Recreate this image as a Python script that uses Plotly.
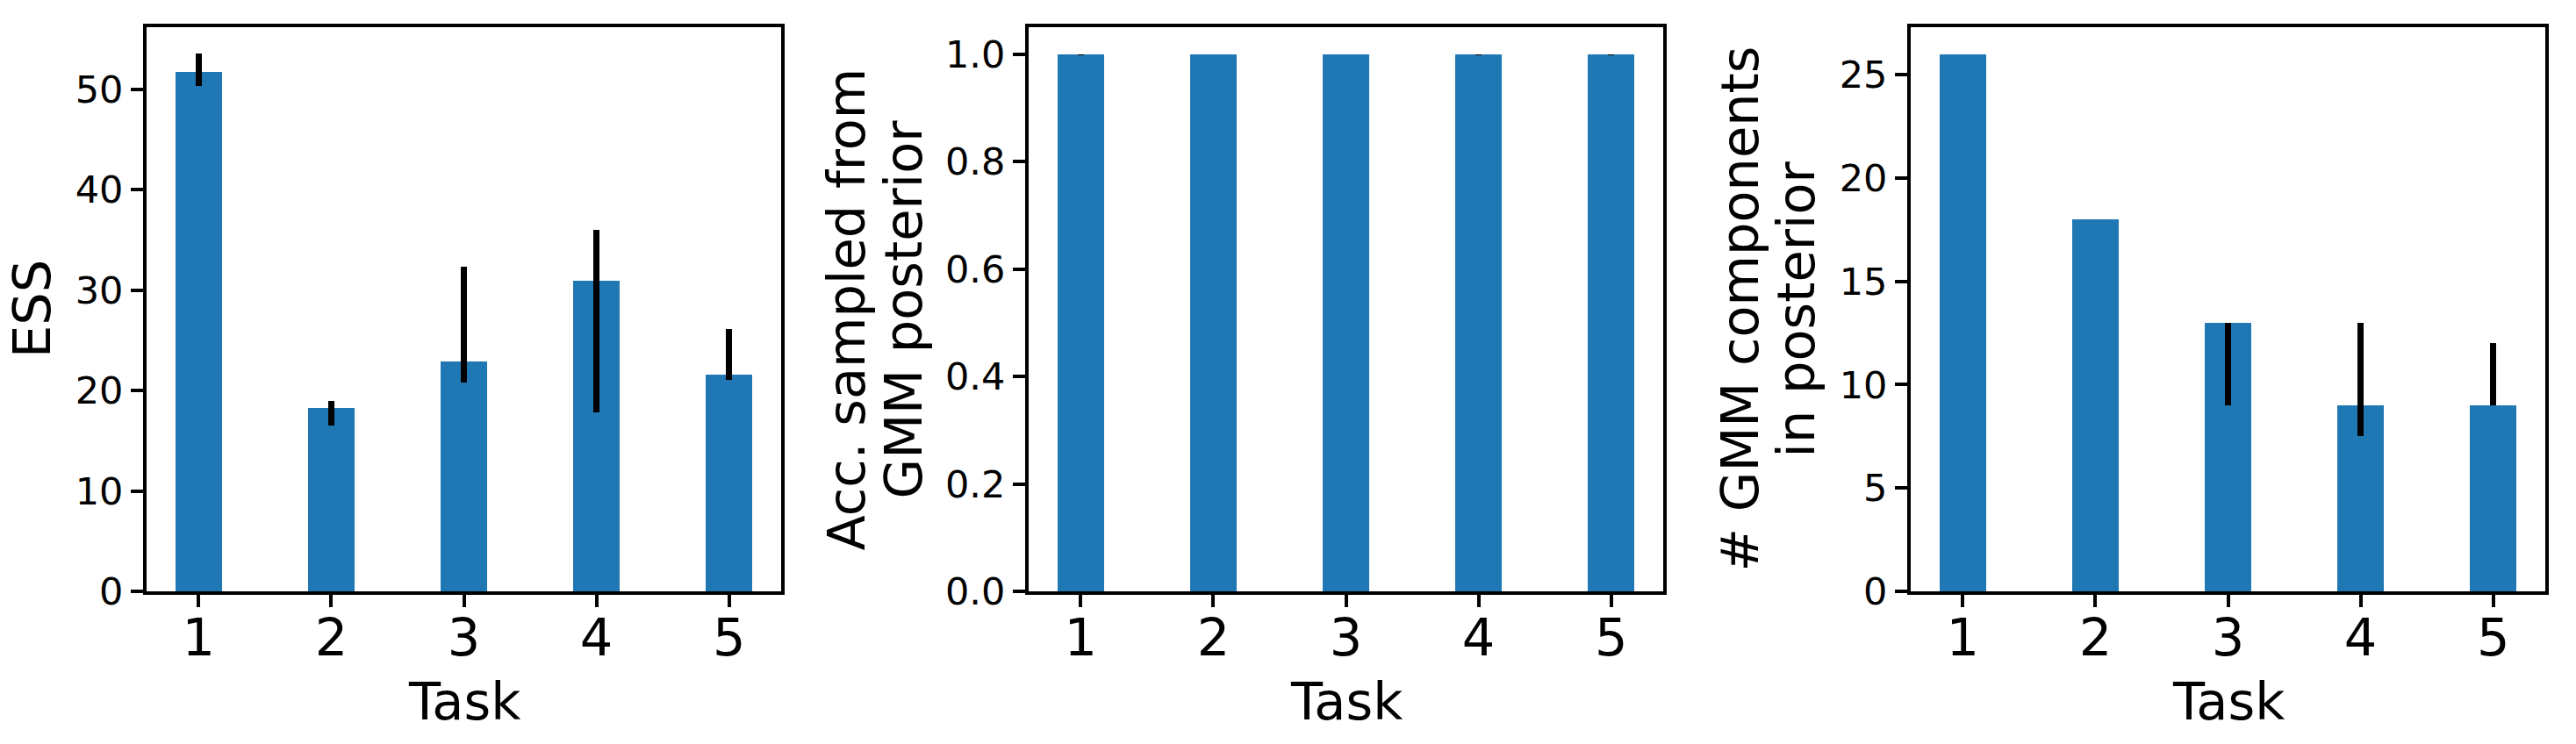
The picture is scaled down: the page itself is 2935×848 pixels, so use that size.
import plotly.graph_objects as go

# data
tasks = [1, 2, 3, 4, 5]

ess = [51.7, 18.3, 22.9, 30.9, 21.6]
ess_plus = [1.9, 0.7, 9.4, 5.1, 4.5]
ess_minus = [1.35, 1.8, 2.1, 13.1, 0.55]

acc = [1.0, 1.0, 1.0, 1.0, 1.0]
acc_plus = [0, 0, 0, 0, 0]
acc_minus = [0.002, 0, 0, 0.002, 0.002]

n_comp = [26, 18, 13, 9, 9]
n_comp_plus = [0, 0, 0, 4, 3]
n_comp_minus = [0, 0, 4, 1.5, 0]

# the page body has an 8px default margin, so the figure is drawn 8px in
OFF = 8
W, H = 2935 - 2 * OFF, 848 - 2 * OFF
# plot area in page pixels
L, R, T, B = 167, 2900, 31, 674
PANEL_W = 723
panel_left = [167, 1172, 2177]

FONT = "DejaVu Sans, Liberation Sans, Arial, sans-serif"
BLUE = "#1f77b4"


def px_x(px):
    return (px - L) / (R - L)


def px_y(py):
    return (B - py) / (B - T)


fig = go.Figure()

series = [
    (ess, ess_plus, ess_minus),
    (acc, acc_plus, acc_minus),
    (n_comp, n_comp_plus, n_comp_minus),
]
for i, (vals, plus, minus) in enumerate(series):
    sfx = "" if i == 0 else str(i + 1)
    fig.add_trace(go.Bar(
        x=tasks, y=vals, width=0.35,
        marker=dict(color=BLUE, line=dict(width=0)),
        error_y=dict(type="data", symmetric=False, array=plus, arrayminus=minus,
                     color="black", thickness=7, width=0),
        xaxis="x" + sfx, yaxis="y" + sfx, showlegend=False,
    ))

y_ranges = [[0, 56.2], [0, 1.05], [0, 27.3]]
y_dticks = [10, 0.2, 5]
y_formats = ["d", ".1f", "d"]

layout = dict(
    width=W, height=H,
    margin=dict(l=L - OFF, r=W + OFF - R, t=T - OFF, b=H + OFF - B),
    paper_bgcolor="white", plot_bgcolor="white",
    font=dict(family=FONT, color="black"),
    bargap=0,
)

for i in range(3):
    sfx = "" if i == 0 else str(i + 1)
    x0 = px_x(panel_left[i])
    x1 = px_x(panel_left[i] + PANEL_W)
    layout["xaxis" + sfx] = dict(
        domain=[x0, x1], anchor="y" + sfx, range=[0.6075, 5.3925],
        tickmode="array", tickvals=tasks, ticktext=[str(t) for t in tasks],
        ticks="outside", ticklen=14, tickwidth=4, tickcolor="black",
        showline=True, linewidth=4, linecolor="black", mirror=True,
        showgrid=False, zeroline=False, automargin=False, ticklabelstandoff=-16,
        tickfont=dict(size=59, family=FONT, color="black"),
    )
    layout["yaxis" + sfx] = dict(
        domain=[0, 1], anchor="x" + sfx, range=y_ranges[i],
        dtick=y_dticks[i], tick0=0, tickformat=y_formats[i],
        ticks="outside", ticklen=14, tickwidth=4, tickcolor="black",
        showline=True, linewidth=4, linecolor="black", mirror=True,
        showgrid=False, zeroline=False, automargin=False, ticklabelstandoff=0,
        tickfont=dict(size=43, family=FONT, color="black"),
    )

fig.update_layout(**layout)

y_titles = [
    ("ESS", 36.6),
    ("Acc. sampled from", 964),
    ("GMM posterior", 1029),
    ("# GMM components", 1982),
    ("in posterior", 2046),
]
for text, xpx in y_titles:
    fig.add_annotation(
        text=text, x=px_x(xpx), y=0.5, xref="paper", yref="paper",
        xanchor="center", yanchor="middle", textangle=-90, showarrow=False,
        font=dict(size=59, family=FONT, color="black"),
    )

for i in range(3):
    fig.add_annotation(
        text="Task", x=px_x(panel_left[i] + PANEL_W / 2), y=px_y(799),
        xref="paper", yref="paper", xanchor="center", yanchor="middle",
        showarrow=False, font=dict(size=59, family=FONT, color="black"),
    )

fig.write_html("out.html")
